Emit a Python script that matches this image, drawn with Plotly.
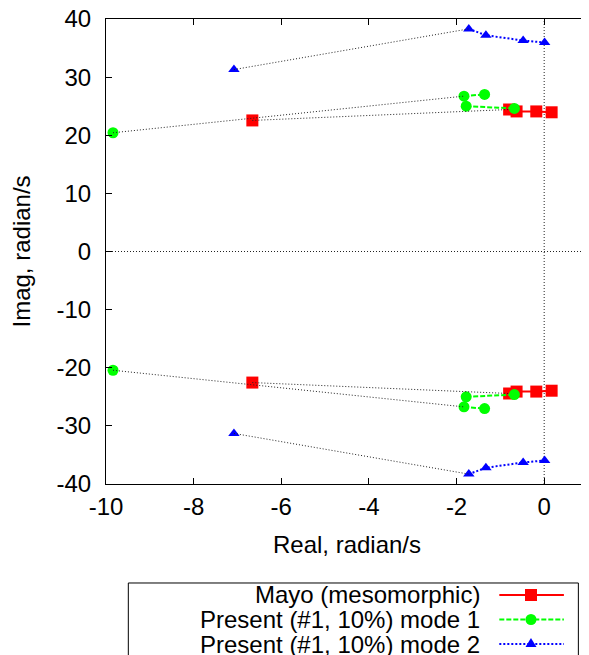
import plotly.graph_objects as go

# ---------------- data ----------------
mayo_re = [-6.66, -0.80, -0.63, -0.18, 0.17]
mayo_im = [22.55, 24.43, 24.10, 24.10, 23.95]

mode1_re = [-9.84, -1.83, -1.36, -1.78, -0.68]
mode1_im = [20.43, 26.73, 27.03, 25.00, 24.62]

mode2_re = [-7.08, -1.72, -1.33, -0.48, 0.01]
mode2_im = [31.30, 38.30, 37.20, 36.30, 35.95]

series_names = ["Mayo (mesomorphic)",
                "Present (#1, 10%) mode 1",
                "Present (#1, 10%) mode 2"]

x_tick_vals = [-10, -8, -6, -4, -2, 0]
x_tick_text = ["-10", "-8", "-6", "-4", "-2", "0"]
y_tick_vals = [-40, -30, -20, -10, 0, 10, 20, 30, 40]
y_tick_text = ["-40", "-30", "-20", "-10", "0", "10", "20", "30", "40"]

x_title = "Real, radian/s"
y_title = "Imag, radian/s"

# which points are joined by the coloured line, and which by the black connector
mayo_paths = [[1, 2, 3, 4]]
mode1_paths = [[1, 2], [3, 4]]
mode2_paths = [[1, 2, 3, 4]]
connector_path = [[0, 1]]

FONT = "Liberation Sans, Arial, sans-serif"
FS = 24


def mirrored(re, im, paths):
    xs, ys = [], []
    for sign in (1, -1):
        for p in paths:
            xs += [re[i] for i in p] + [None]
            ys += [sign * im[i] for i in p] + [None]
    return xs, ys


fig = go.Figure()

styles = [
    dict(re=mayo_re, im=mayo_im, paths=mayo_paths, color="#ff0000",
         dash="solid", symbol="square", size=12),
    dict(re=mode1_re, im=mode1_im, paths=mode1_paths, color="#00ff00",
         dash="5px,2px", symbol="circle", size=11),
    dict(re=mode2_re, im=mode2_im, paths=mode2_paths, color="#0000ff",
         dash="2px,2px", symbol="triangle-up", size=10),
]

for name, s in zip(series_names, styles):
    lx, ly = mirrored(s["re"], s["im"], s["paths"])
    fig.add_trace(go.Scatter(x=lx, y=ly, mode="lines", name=name,
                             line=dict(color=s["color"], width=2, dash=s["dash"]),
                             showlegend=False, hoverinfo="skip"))
    fig.add_trace(go.Scatter(x=s["re"] + s["re"],
                             y=s["im"] + [-v for v in s["im"]],
                             mode="markers", name=name, showlegend=False,
                             marker=dict(color=s["color"], symbol=s["symbol"],
                                         size=s["size"], line=dict(width=0))))

# black dotted connectors from the far-left root to its cluster
for s in styles:
    cx, cy = mirrored(s["re"], s["im"], connector_path)
    fig.add_trace(go.Scatter(x=cx, y=cy, mode="lines", showlegend=False,
                             hoverinfo="skip",
                             line=dict(color="#222222", width=1, dash="1px,2px")))

# zero axes (dotted)
fig.add_shape(type="line", xref="x", yref="paper", x0=0, x1=0, y0=0, y1=1,
              line=dict(color="#222222", width=1, dash="1px,2px"), layer="below")
fig.add_shape(type="line", xref="paper", yref="y", x0=0, x1=1, y0=0, y1=0,
              line=dict(color="#222222", width=1, dash="1px,2px"), layer="below")

# y axis title (placed as rotated text left of the tick labels)
fig.add_annotation(x=0, y=0.5, xref="paper", yref="paper", text=y_title,
                   textangle=-90, showarrow=False, xanchor="center",
                   yanchor="middle", xshift=-85,
                   font=dict(family=FONT, size=FS, color="black"))

# ---------------- custom legend (text right, sample on the right) ----------------
leg_rows = [-0.2387, -0.2914, -0.3441]
fig.add_shape(type="rect", xref="paper", yref="paper", x0=0.0463, x1=0.980,
              y0=-0.60, y1=-0.2129, line=dict(color="black", width=1),
              fillcolor="rgba(0,0,0,0)")
mx = 0.8817
for name, s, ry in zip(series_names, styles, leg_rows):
    fig.add_annotation(x=0.780, y=ry, xref="paper", yref="paper", text=name,
                       showarrow=False, xanchor="right", yanchor="middle",
                       font=dict(family=FONT, size=FS, color="black"))
    fig.add_shape(type="line", xref="paper", yref="paper", x0=0.816, x1=0.950,
                  y0=ry, y1=ry, line=dict(color=s["color"], width=2, dash=s["dash"]))
    common = dict(xref="paper", yref="paper", xsizemode="pixel", ysizemode="pixel",
                  xanchor=mx, yanchor=ry, fillcolor=s["color"], line=dict(width=0))
    if s["symbol"] == "square":
        fig.add_shape(type="rect", x0=-6, x1=6, y0=-6, y1=6, **common)
    elif s["symbol"] == "circle":
        fig.add_shape(type="circle", x0=-5.5, x1=5.5, y0=-5.5, y1=5.5, **common)
    else:
        fig.add_shape(type="path", path="M -5.5,-3 L 5.5,-3 L 0,6 Z", **common)

axis_common = dict(showgrid=False, zeroline=False, showline=True, mirror="ticks",
                   ticks="inside", ticklen=6, tickwidth=1, tickcolor="black",
                   linecolor="black", linewidth=1, ticklabeloverflow="allow",
                   tickfont=dict(family=FONT, size=FS, color="black"))

fig.update_layout(
    width=581, height=647,
    margin=dict(l=98, r=1, t=11, b=171),
    paper_bgcolor="white", plot_bgcolor="white",
    template="none",
    showlegend=False,
    font=dict(family=FONT, size=FS, color="black"),
    xaxis=dict(range=[-10, 1], tickmode="array", tickvals=x_tick_vals,
               ticktext=x_tick_text,
               title=dict(text=x_title, font=dict(family=FONT, size=FS),
                          standoff=17),
               ticklabelstandoff=1, **axis_common),
    yaxis=dict(range=[-40, 40], tickmode="array", tickvals=y_tick_vals,
               ticktext=y_tick_text,
               ticklabelstandoff=9, **axis_common),
)

fig.write_html("out.html")
